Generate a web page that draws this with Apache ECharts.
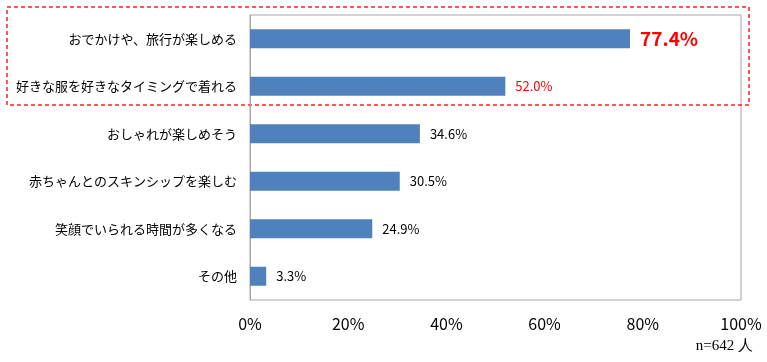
<!DOCTYPE html>
<html><head><meta charset="utf-8">
<script src="https://cdn.jsdelivr.net/npm/echarts@6/dist/echarts.min.js"></script>
<style>html,body{margin:0;padding:0;background:#fff}#c{width:767px;height:362px}</style>
</head><body><div id="c"></div>
<script>
const categories = ['おでかけや、旅行が楽しめる','好きな服を好きなタイミングで着れる','おしゃれが楽しめそう','赤ちゃんとのスキンシップを楽しむ','笑顔でいられる時間が多くなる','その他'];
const values = [77.4, 52.0, 34.6, 30.5, 24.9, 3.3];
const tickLabels = ['0%','20%','40%','60%','80%','100%'];
const note = 'n=642 人';

const chart = echarts.init(document.getElementById('c'));
const font = '"Noto Sans CJK JP", sans-serif';
chart.setOption({
  animation: false,
  grid: {left: 250, right: 26, top: 15, bottom: 62, show: true, borderColor: '#a6a6a6', borderWidth: 1},
  xAxis: {type: 'value', min: 0, max: 100, interval: 20,
    axisLine: {show: false}, axisTick: {show: false}, splitLine: {show: false},
    axisLabel: {margin: 16, fontSize: 16, color: '#000', fontFamily: font,
      formatter: (v) => tickLabels[Math.round(v / 20)]}},
  yAxis: {type: 'category', inverse: true, data: categories,
    axisLine: {show: true, lineStyle: {color: '#a6a6a6'}}, axisTick: {show: false},
    axisLabel: {margin: 13, fontSize: 13, color: '#000', fontFamily: font}},
  series: [{type: 'bar', barWidth: 19,
    itemStyle: {color: '#4f81bd'},
    data: values.map((v, i) => {
      const d = {value: v};
      if (i === 0) d.label = {color: '#ff0000', fontSize: 19, fontWeight: 'bold', distance: 10};
      if (i === 1) d.label = {color: '#ff0000'};
      return d;
    }),
    label: {show: true, position: 'right', distance: 10, fontSize: 13, color: '#000', fontFamily: font,
      formatter: (p) => p.value.toFixed(1) + '%'}}],
  graphic: [
    {type: 'rect', shape: {x: 7, y: 7, width: 742, height: 98}, silent: true,
      style: {fill: 'none', stroke: '#ff2020', lineWidth: 1.5, lineDash: [4, 3]}},
    {type: 'text', right: 14, top: 339, style: {text: note, fontSize: 15, fill: '#000', fontFamily: '"Liberation Serif", "DejaVu Serif", serif'}}
  ]
});
</script></body></html>
